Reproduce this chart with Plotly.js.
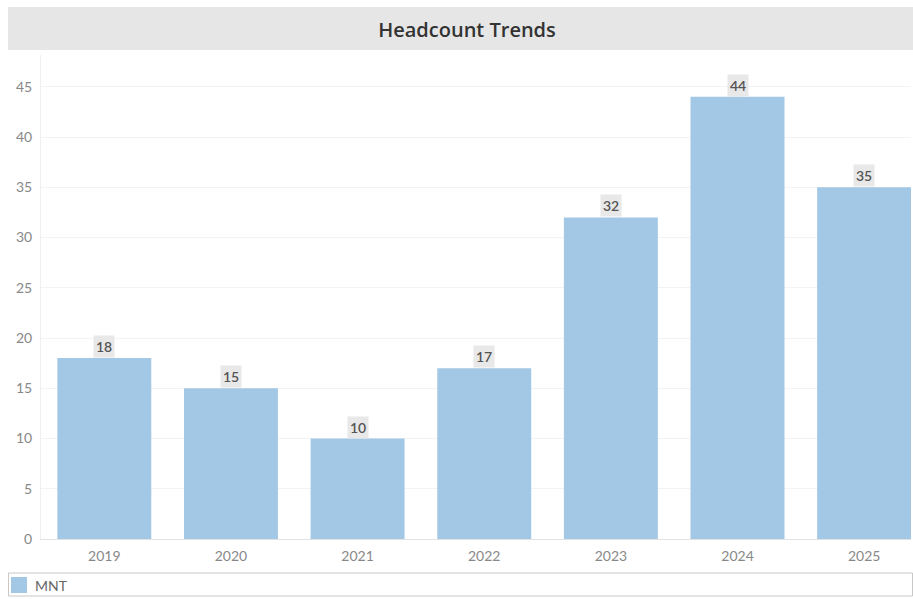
<!DOCTYPE html>
<html>
<head>
<meta charset="utf-8">
<script src="https://cdn.plot.ly/plotly-3.0.1.min.js"></script>
<style>html,body{margin:0;padding:0;background:#fff;}#chart{width:913px;height:599px;}</style>
</head>
<body>
<div id="chart"></div>
<script>
const years = ['2019','2020','2021','2022','2023','2024','2025'];
const headcount = [18, 15, 10, 17, 32, 44, 35];
const seriesName = 'MNT';
const yTicks = [0, 5, 10, 15, 20, 25, 30, 35, 40, 45];

const barColor = '#a3c8e6';
const W = 913, H = 599;
const mL = 41, mR = 2, mT = 55, mB = 60;
const pw = W - mL - mR, ph = H - mT - mB;
const px = x => (x - mL) / pw;
const py = y => (H - mB - y) / ph;

const trace = {
  type: 'bar',
  x: years,
  y: headcount,
  name: seriesName,
  marker: {color: barColor},
  hoverinfo: 'x+y',
  showlegend: false
};

const labels = years.map((yr, i) => ({
  x: i, y: headcount[i], xref: 'x', yref: 'y',
  text: String(headcount[i]), showarrow: false,
  xanchor: 'center', yanchor: 'bottom', yshift: 0,
  bgcolor: '#e8e8e8', borderpad: 2,
  font: {family: 'Lato, "Open Sans", sans-serif', size: 14, color: '#555', weight: 600}
}));

const layout = {
  width: W, height: H,
  margin: {l: mL, r: mR, t: mT, b: mB},
  paper_bgcolor: '#fff', plot_bgcolor: '#fff',
  bargap: 0.258,
  title: {
    text: 'Headcount Trends',
    x: 467 / W, xanchor: 'center', xref: 'container',
    y: 1 - 30 / H, yanchor: 'middle', yref: 'container',
    font: {family: '"Open Sans", Lato, sans-serif', size: 20, color: '#333', weight: 600}
  },
  xaxis: {
    type: 'category',
    range: [-0.5, 6.37],
    showgrid: false,
    showline: true, linecolor: '#e2e2e2', linewidth: 1,
    ticks: '', tickfont: {family: 'Lato, "Open Sans", sans-serif', size: 14, color: '#888'},
    ticklabelstandoff: 4,
    fixedrange: true
  },
  yaxis: {
    range: [0, (H - mB - mT) / 10.05],
    tickvals: yTicks,
    showgrid: true, gridcolor: '#f3f3f3', gridwidth: 1,
    zeroline: false,
    showline: true, linecolor: '#efefef', linewidth: 1,
    ticks: '', tickfont: {family: 'Lato, "Open Sans", sans-serif', size: 14, color: '#888'},
    ticklabelstandoff: 5,
    fixedrange: true
  },
  shapes: [
    {type: 'rect', xref: 'paper', yref: 'paper', x0: px(8), x1: px(913), y0: py(50), y1: py(7),
     fillcolor: '#e6e6e6', line: {width: 0}, layer: 'below'},
    {type: 'rect', xref: 'paper', yref: 'paper', x0: px(8.5), x1: px(912.5), y0: py(596), y1: py(573),
     fillcolor: 'rgba(0,0,0,0)', line: {color: '#c8c8c8', width: 1}},
    {type: 'rect', xref: 'paper', yref: 'paper', x0: px(11), x1: px(27), y0: py(593), y1: py(577),
     fillcolor: barColor, line: {width: 0}}
  ],
  annotations: labels.concat([
    {xref: 'paper', yref: 'paper', x: px(33), y: py(585), xanchor: 'left', yanchor: 'middle',
     text: seriesName, showarrow: false,
     font: {family: 'Lato, "Open Sans", sans-serif', size: 14, color: '#666'}}
  ])
};

Plotly.newPlot('chart', [trace], layout, {displayModeBar: false, staticPlot: true});
</script>
</body>
</html>
